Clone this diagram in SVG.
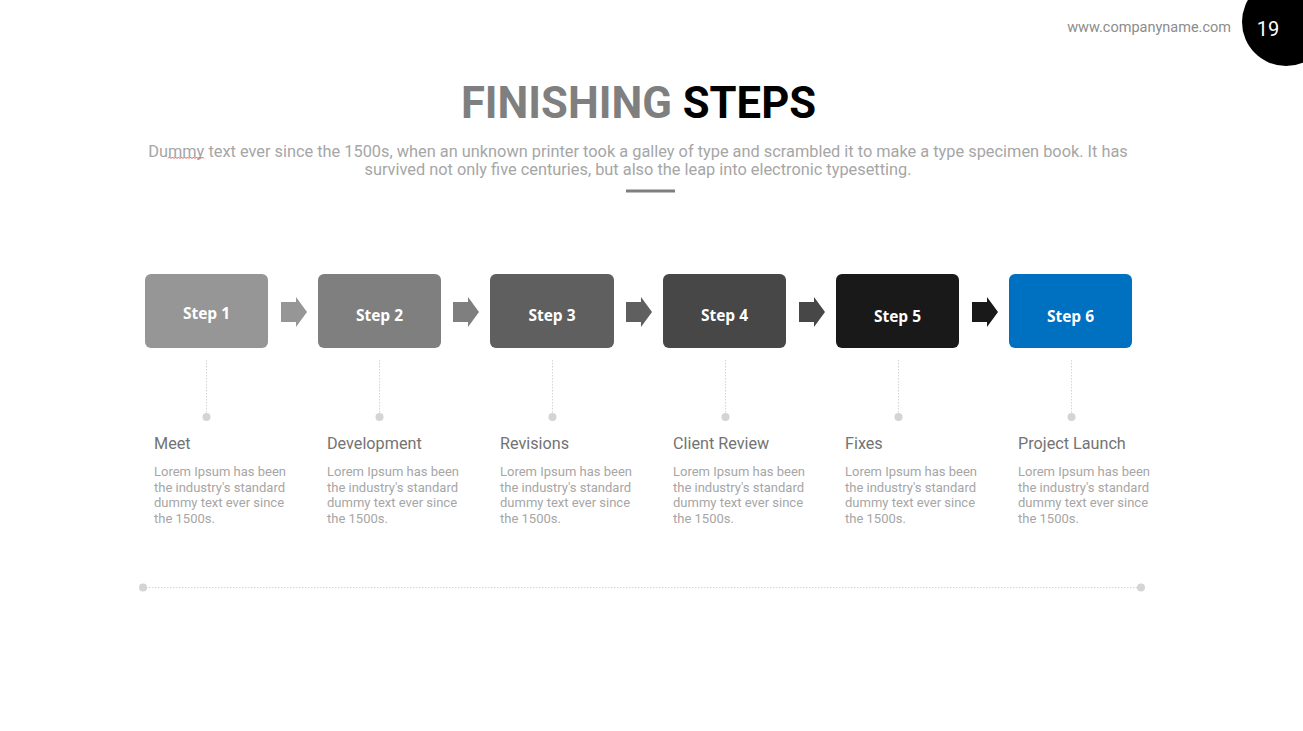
<svg xmlns="http://www.w3.org/2000/svg" width="1303" height="731" viewBox="0 0 1303 731">
<defs>
<style>
.box{stroke:none}
.lbl{font-family:"Open Sans","Liberation Sans",sans-serif;font-weight:700;font-size:15.5px;fill:#fff;text-anchor:middle}
.ttl{font-family:Roboto,"Liberation Sans",sans-serif;font-size:16.2px;fill:#737373}
.body{font-family:Roboto,"Liberation Sans",sans-serif;font-size:13px;fill:#a6a6a6}
.vline{stroke:#d4d4d4;stroke-width:1;stroke-dasharray:1.5 1.5;fill:none}
.dot{fill:#d4d4d4}
</style>
<path id="arr" d="M0,-10 H15 V-15 L26,0 L15,15 V10 H0 Z"/>
</defs>
<rect width="1303" height="731" fill="#fff"/>
<g id="header">
<text x="1231" y="32" text-anchor="end" font-family="Roboto,'Liberation Sans',sans-serif" font-size="14.5" fill="#8c8c8c">www.companyname.com</text>
<circle cx="1286" cy="22" r="44" fill="#000"/>
<text x="1268" y="36" text-anchor="middle" font-family="Roboto,'Liberation Sans',sans-serif" font-size="20" fill="#fff">19</text>
<text x="638.5" y="118" text-anchor="middle" font-family="Roboto,'Liberation Sans',sans-serif" font-size="43.6" font-weight="700"><tspan fill="#7f7f7f">FINISHING </tspan><tspan fill="#000">STEPS</tspan></text>
<text x="638" y="157" text-anchor="middle" font-family="Roboto,'Liberation Sans',sans-serif" font-size="16.35" fill="#a6a6a6">Dummy text ever since the 1500s, when an unknown printer took a galley of type and scrambled it to make a type specimen book. It has</text>
<text x="638" y="175" text-anchor="middle" font-family="Roboto,'Liberation Sans',sans-serif" font-size="16.35" fill="#a6a6a6">survived not only five centuries, but also the leap into electronic typesetting.</text>
<path d="M168,158.5 l1.5,-1.5 l1.5,1.5 l1.5,-1.5 l1.5,1.5 l1.5,-1.5 l1.5,1.5 l1.5,-1.5 l1.5,1.5 l1.5,-1.5 l1.5,1.5 l1.5,-1.5 l1.5,1.5 l1.5,-1.5 l1.5,1.5 l1.5,-1.5 l1.5,1.5 l1.5,-1.5 l1.5,1.5 l1.5,-1.5 l1.5,1.5 l1.5,-1.5 l1.5,1.5 l1.5,-1.5 l1.5,1.5" fill="none" stroke="#e03030" stroke-width="0.8"/>
<rect x="626" y="189.5" width="49" height="3" fill="#7f7f7f"/>
</g>
<g id="connectors">
<use href="#arr" x="281" y="312" fill="#969696"/>
<use href="#arr" x="453" y="312" fill="#7f7f7f"/>
<use href="#arr" x="626" y="312" fill="#5f5f5f"/>
<use href="#arr" x="799" y="312" fill="#474747"/>
<use href="#arr" x="972" y="312" fill="#191919"/>
<line class="vline" x1="206.5" y1="360" x2="206.5" y2="413"/>
<line class="vline" x1="379.5" y1="360" x2="379.5" y2="413"/>
<line class="vline" x1="552.5" y1="360" x2="552.5" y2="413"/>
<line class="vline" x1="725.5" y1="360" x2="725.5" y2="413"/>
<line class="vline" x1="898.5" y1="360" x2="898.5" y2="413"/>
<line class="vline" x1="1071.5" y1="360" x2="1071.5" y2="413"/>
<circle class="dot" cx="206.5" cy="417" r="4"/>
<circle class="dot" cx="379.5" cy="417" r="4"/>
<circle class="dot" cx="552.5" cy="417" r="4"/>
<circle class="dot" cx="725.5" cy="417" r="4"/>
<circle class="dot" cx="898.5" cy="417" r="4"/>
<circle class="dot" cx="1071.5" cy="417" r="4"/>
<line class="vline" x1="143" y1="587.5" x2="1141" y2="587.5"/>
<circle class="dot" cx="143" cy="587.5" r="4"/>
<circle class="dot" cx="1141" cy="587.5" r="4"/>
</g>
<g id="step1">
<rect class="box" x="145" y="274" width="123" height="74" rx="6" fill="#969696"/>
<text class="lbl" x="206.5" y="318.5">Step 1</text>
<text class="ttl" x="154" y="449">Meet</text>
<text class="body" x="154" y="476">Lorem Ipsum has been</text>
<text class="body" x="154" y="492">the industry's standard</text>
<text class="body" x="154" y="507">dummy text ever since</text>
<text class="body" x="154" y="523">the 1500s.</text>
</g>
<g id="step2">
<rect class="box" x="318" y="274" width="123" height="74" rx="6" fill="#7f7f7f"/>
<text class="lbl" x="379.5" y="320.5">Step 2</text>
<text class="ttl" x="327" y="449">Development</text>
<text class="body" x="327" y="476">Lorem Ipsum has been</text>
<text class="body" x="327" y="492">the industry's standard</text>
<text class="body" x="327" y="507">dummy text ever since</text>
<text class="body" x="327" y="523">the 1500s.</text>
</g>
<g id="step3">
<rect class="box" x="490" y="274" width="124" height="74" rx="6" fill="#5f5f5f"/>
<text class="lbl" x="552" y="320.5">Step 3</text>
<text class="ttl" x="500" y="449">Revisions</text>
<text class="body" x="500" y="476">Lorem Ipsum has been</text>
<text class="body" x="500" y="492">the industry's standard</text>
<text class="body" x="500" y="507">dummy text ever since</text>
<text class="body" x="500" y="523">the 1500s.</text>
</g>
<g id="step4">
<rect class="box" x="663" y="274" width="123" height="74" rx="6" fill="#474747"/>
<text class="lbl" x="724.5" y="320.5">Step 4</text>
<text class="ttl" x="673" y="449">Client Review</text>
<text class="body" x="673" y="476">Lorem Ipsum has been</text>
<text class="body" x="673" y="492">the industry's standard</text>
<text class="body" x="673" y="507">dummy text ever since</text>
<text class="body" x="673" y="523">the 1500s.</text>
</g>
<g id="step5">
<rect class="box" x="836" y="274" width="123" height="74" rx="6" fill="#191919"/>
<text class="lbl" x="897.5" y="321.5">Step 5</text>
<text class="ttl" x="845" y="449">Fixes</text>
<text class="body" x="845" y="476">Lorem Ipsum has been</text>
<text class="body" x="845" y="492">the industry's standard</text>
<text class="body" x="845" y="507">dummy text ever since</text>
<text class="body" x="845" y="523">the 1500s.</text>
</g>
<g id="step6">
<rect class="box" x="1009" y="274" width="123" height="74" rx="6" fill="#0070c0"/>
<text class="lbl" x="1070.5" y="321.5">Step 6</text>
<text class="ttl" x="1018" y="449">Project Launch</text>
<text class="body" x="1018" y="476">Lorem Ipsum has been</text>
<text class="body" x="1018" y="492">the industry's standard</text>
<text class="body" x="1018" y="507">dummy text ever since</text>
<text class="body" x="1018" y="523">the 1500s.</text>
</g>
</svg>
